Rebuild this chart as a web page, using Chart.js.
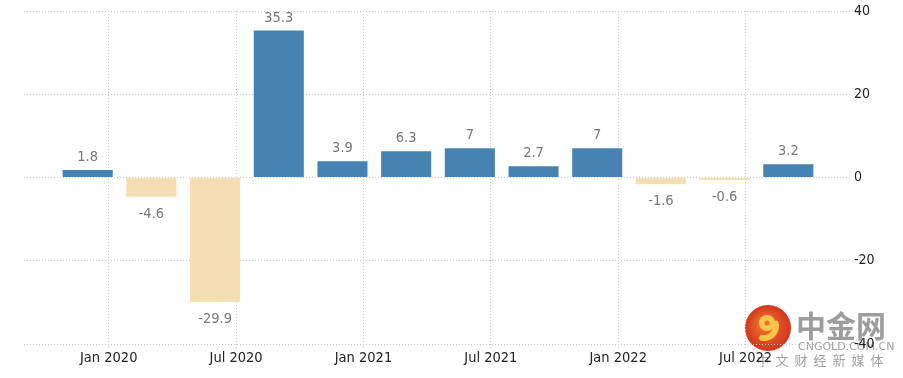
<!DOCTYPE html>
<html lang="en">
  <head>
    <meta charset="utf-8" />
    <title>GDP growth rate</title>
    <style>
      * {
        margin: 0;
        padding: 0;
      }
      body {
        background: white;
      }
      .chartBox {
        width: 903px;
        height: 378px;
      }
    </style>
  </head>
  <body>
    <div class="chartBox">
      <canvas id="myChart" width="903" height="378"></canvas>
    </div>

    <script src="https://cdn.jsdelivr.net/npm/chart.js"></script>

    <script>
      // quarterly values, Q4 2019 .. Q3 2022
      const quarters = [
        "Q4 2019", "Q1 2020", "Q2 2020", "Q3 2020",
        "Q4 2020", "Q1 2021", "Q2 2021", "Q3 2021",
        "Q4 2021", "Q1 2022", "Q2 2022", "Q3 2022",
      ];
      const values = [1.8, -4.6, -29.9, 35.3, 3.9, 6.3, 7, 2.7, 7, -1.6, -0.6, 3.2];

      // date ticks, in quarter units from the first bar
      const tickValues = [0.33, 2.33, 4.33, 6.33, 8.33, 10.33];
      const tickLabels = ["Jan 2020", "Jul 2020", "Jan 2021", "Jul 2021", "Jan 2022", "Jul 2022"];
      const yTicks = [-40, -20, 0, 20, 40];

      const FONT = "'DejaVu Sans Condensed', 'DejaVu Sans', sans-serif";
      const BLUE = "#4682b4";
      const WHEAT = "#f5deb3";
      const GRID = "#c9c9c9";

      const valueLabels = {
        id: "valueLabels",
        afterDatasetsDraw(chart) {
          const { ctx } = chart;
          const meta = chart.getDatasetMeta(0);
          ctx.save();
          ctx.font = "14.5px " + FONT;
          ctx.fillStyle = "#777";
          ctx.textAlign = "center";
          meta.data.forEach((bar, i) => {
            const v = values[i];
            if (v >= 0) {
              ctx.textBaseline = "alphabetic";
              ctx.fillText(String(v), bar.x, bar.y - 9);
            } else {
              ctx.textBaseline = "top";
              ctx.fillText(String(v), bar.x, bar.y + 10);
            }
          });
          ctx.restore();
        },
      };

      // cngold watermark, sits under everything else
      const watermark = {
        id: "watermark",
        beforeDraw(chart) {
          const { ctx } = chart;
          ctx.save();
          const cx = 768, cy = 328, r = 23;
          const g = ctx.createRadialGradient(cx - 4, cy - 4, 3, cx, cy, r);
          g.addColorStop(0, "#f0742a");
          g.addColorStop(1, "#d2341c");
          ctx.fillStyle = g;
          ctx.beginPath();
          ctx.arc(cx, cy, r, 0, Math.PI * 2);
          ctx.fill();
          // swirl
          ctx.strokeStyle = "#f8c64a";
          ctx.fillStyle = "#f8c64a";
          ctx.lineCap = "round";
          ctx.beginPath();
          ctx.arc(cx - 1, cy - 5, 8, 0, Math.PI * 2);
          ctx.fill();
          ctx.fillStyle = "#e8702a";
          ctx.beginPath();
          ctx.arc(cx - 1, cy - 5, 2.5, 0, Math.PI * 2);
          ctx.fill();
          ctx.lineWidth = 6;
          ctx.beginPath();
          ctx.arc(cx - 4, cy - 2, 12, -0.2, Math.PI * 0.55);
          ctx.stroke();
          ctx.restore();

          ctx.save();
          ctx.fillStyle = "rgba(140,140,140,0.85)";
          ctx.textBaseline = "alphabetic";
          ctx.textAlign = "left";
          ctx.font = "bold 30px 'Noto Sans CJK SC', sans-serif";
          ctx.fillText("中金网", 796, 337);
          ctx.font = "11px 'DejaVu Sans', sans-serif";
          ctx.fillStyle = "rgba(150,150,150,0.9)";
          ctx.textBaseline = "middle";
          ctx.fillText("CNGOLD.COM.CN", 798, 347);
          ctx.font = "13px 'Noto Sans CJK SC', sans-serif";
          ctx.textAlign = "center";
          const slogan = "中文财经新媒体";
          for (let i = 0; i < slogan.length; i++) {
            ctx.fillText(slogan[i], 763 + i * 19, 360);
          }
          ctx.restore();
        },
      };

      const data = {
        datasets: [
          {
            label: "GDP Growth Rate",
            data: values.map((v, i) => ({ x: i, y: v })),
            backgroundColor: (ctx) => (ctx.raw && ctx.raw.y < 0 ? WHEAT : BLUE),
            borderWidth: 0,
            barPercentage: 0.786,
            categoryPercentage: 1,
          },
        ],
      };

      const config = {
        type: "bar",
        data: data,
        options: {
          responsive: false,
          animation: false,
          layout: {
            padding: { left: 24, top: 11, right: 0, bottom: 0 },
          },
          plugins: {
            legend: { display: false },
            tooltip: {
              callbacks: {
                title: (items) => quarters[items[0].dataIndex],
              },
            },
          },
          scales: {
            x: {
              type: "linear",
              min: -1,
              max: 12,
              offset: false,
              afterBuildTicks: (scale) => {
                scale.ticks = tickValues.map((v) => ({ value: v }));
              },
              afterFit: (scale) => {
                scale.height = 34;
              },
              ticks: {
                callback: (value, index) => tickLabels[index],
                color: "#222",
                font: { family: FONT, size: 14.5 },
                padding: 2,
                maxRotation: 0,
                autoSkip: false,
              },
              grid: {
                offset: false,
                color: GRID,
                tickColor: GRID,
                tickLength: 4,
                tickBorderDash: [1, 2],
              },
              border: { display: false, dash: [1, 2] },
            },
            y: {
              position: "right",
              min: -40,
              max: 40,
              afterBuildTicks: (scale) => {
                scale.ticks = yTicks.map((v) => ({ value: v }));
              },
              afterFit: (scale) => {
                scale.width = 51;
              },
              ticks: {
                color: "#222",
                font: { family: FONT, size: 14 },
                padding: 2,
              },
              grid: {
                color: GRID,
                drawTicks: false,
              },
              border: { display: false, dash: [1, 2] },
            },
          },
        },
        plugins: [watermark, valueLabels],
      };

      const myChart = new Chart(document.getElementById("myChart"), config);
    </script>
  </body>
</html>
